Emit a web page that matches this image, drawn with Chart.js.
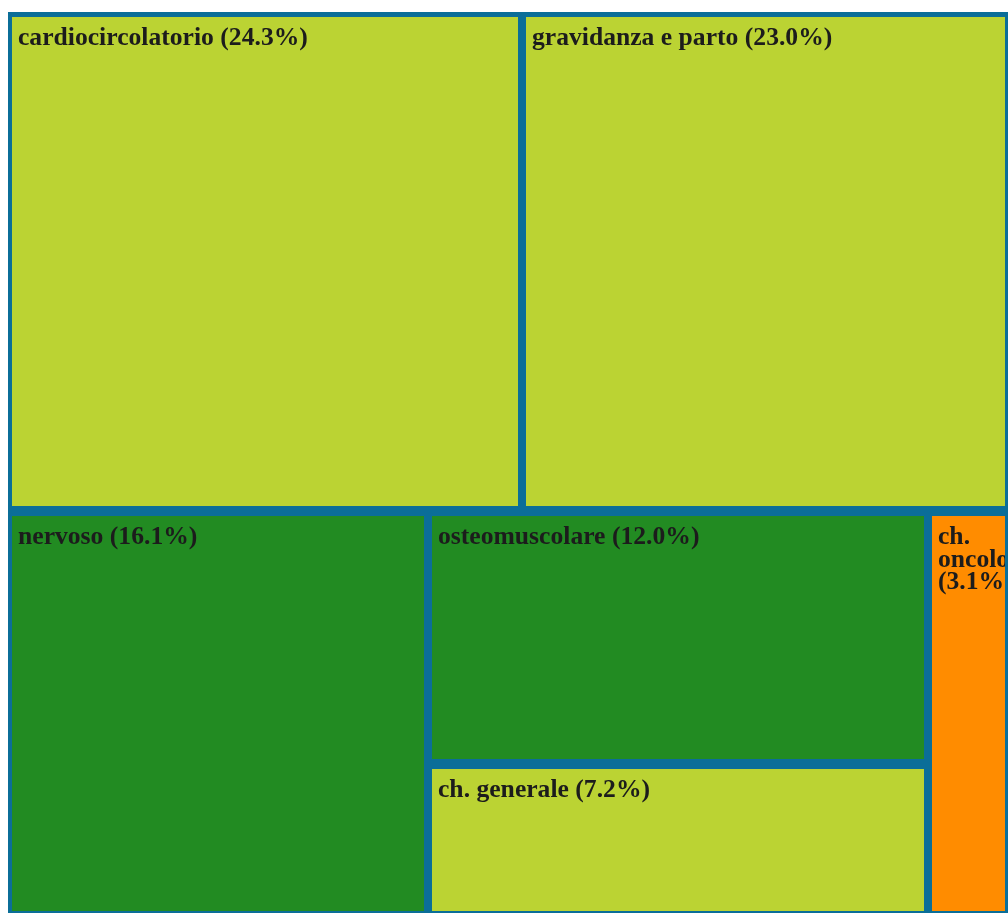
<!DOCTYPE html>
<html>
<head>
<meta charset="utf-8">
<script src="https://cdn.jsdelivr.net/npm/chart.js@4.4.1/dist/chart.umd.min.js"></script>
<style>
  html, body { margin: 0; padding: 0; overflow: hidden; background: #fff; height: 100%; }
  #wrap { position: absolute; left: 8px; top: 12px; width: 1001px; height: 1055px; }
</style>
</head>
<body>
<div id="wrap"><canvas id="chart"></canvas></div>
<script>
// categories and their share of the total (%)
const categories = ['cardiocircolatorio', 'gravidanza e parto', 'nervoso', 'osteomuscolare', 'ch. generale', 'ch. oncologica'];
const shares = [24.3, 23.0, 16.1, 12.0, 7.2, 3.1];
const cellColors = ['#bbd333', '#bbd333', '#228b22', '#228b22', '#bbd333', '#ff8c00'];
// how the cells are grouped: rows -> columns -> category indexes
const rows = [
    [[0], [1]],
    [[2], [3, 4], [5]]
];
const total = 100;

const sum = idx => idx.reduce((a, i) => a + shares[i], 0);

// slice-and-dice layout in value units: x in [0,1], y in [0,total]
function layout() {
    const cells = [];
    let y = 0;
    rows.forEach(row => {
        const rowSum = row.reduce((a, col) => a + sum(col), 0);
        let x = 0;
        row.forEach(col => {
            const colSum = sum(col);
            const w = colSum / rowSum;
            let cy = y;
            col.forEach(i => {
                const h = rowSum * shares[i] / colSum;
                cells.push({ i, x0: x, x1: x + w, y0: cy, y1: cy + h });
                cy += h;
            });
            x += w;
        });
        y += rowSum;
    });
    return cells;
}

function wrapText(ctx, text, maxW) {
    const words = text.split(' ');
    const lines = [];
    let line = '';
    words.forEach(w => {
        const test = line ? line + ' ' + w : w;
        if (line && ctx.measureText(test).width > maxW) {
            lines.push(line);
            line = w;
        } else {
            line = test;
        }
    });
    if (line) lines.push(line);
    return lines;
}

const treemapPlugin = {
    id: 'treemapCells',
    afterDatasetsDraw(chart) {
        const ctx = chart.ctx;
        const xs = chart.scales.x, ys = chart.scales.y;
        const padX = 4, padY = 5, sx = 1.025;
        const boxes = layout().map(c => ({
            i: c.i,
            left: Math.round(xs.getPixelForValue(c.x0)),
            right: Math.round(xs.getPixelForValue(c.x1)),
            top: Math.round(ys.getPixelForValue(c.y0)),
            bottom: Math.round(ys.getPixelForValue(c.y1))
        }));
        ctx.save();
        ctx.fillStyle = '#0b6e98';
        boxes.forEach(b => ctx.fillRect(b.left, b.top, b.right - b.left, b.bottom - b.top));
        ctx.restore();
        boxes.forEach(b => {
            const fx = b.left + padX, fy = b.top + padY;
            const fw = b.right - b.left - 2 * padX, fh = b.bottom - b.top - 2 * padY;
            ctx.save();
            ctx.fillStyle = cellColors[b.i];
            ctx.fillRect(fx, fy, fw, fh);
            ctx.beginPath();
            ctx.rect(fx, fy, fw, fh);
            ctx.clip();
            ctx.font = 'bold 25px "Liberation Serif", "Times New Roman", serif';
            ctx.fillStyle = '#1c1c1c';
            ctx.textBaseline = 'alphabetic';
            const label = categories[b.i] + ' (' + shares[b.i].toFixed(1) + '%)';
            const lines = wrapText(ctx, label, (fw - 12) / sx);
            lines.forEach((ln, k) => {
                ctx.save();
                ctx.translate(fx + 6, fy + 28 + k * 22.5);
                ctx.scale(sx, 1);
                ctx.fillText(ln, 0, 0);
                ctx.restore();
            });
            ctx.restore();
        });
    }
};

new Chart(document.getElementById('chart'), {
    type: 'scatter',
    data: { datasets: [] },
    options: {
        responsive: true,
        maintainAspectRatio: false,
        animation: false,
        layout: { padding: 0 },
        plugins: { legend: { display: false }, tooltip: { enabled: false } },
        scales: {
            x: { type: 'linear', min: 0, max: 1, display: false },
            y: { type: 'linear', min: 0, max: total, reverse: true, display: false }
        }
    },
    plugins: [treemapPlugin]
});
</script>
</body>
</html>
